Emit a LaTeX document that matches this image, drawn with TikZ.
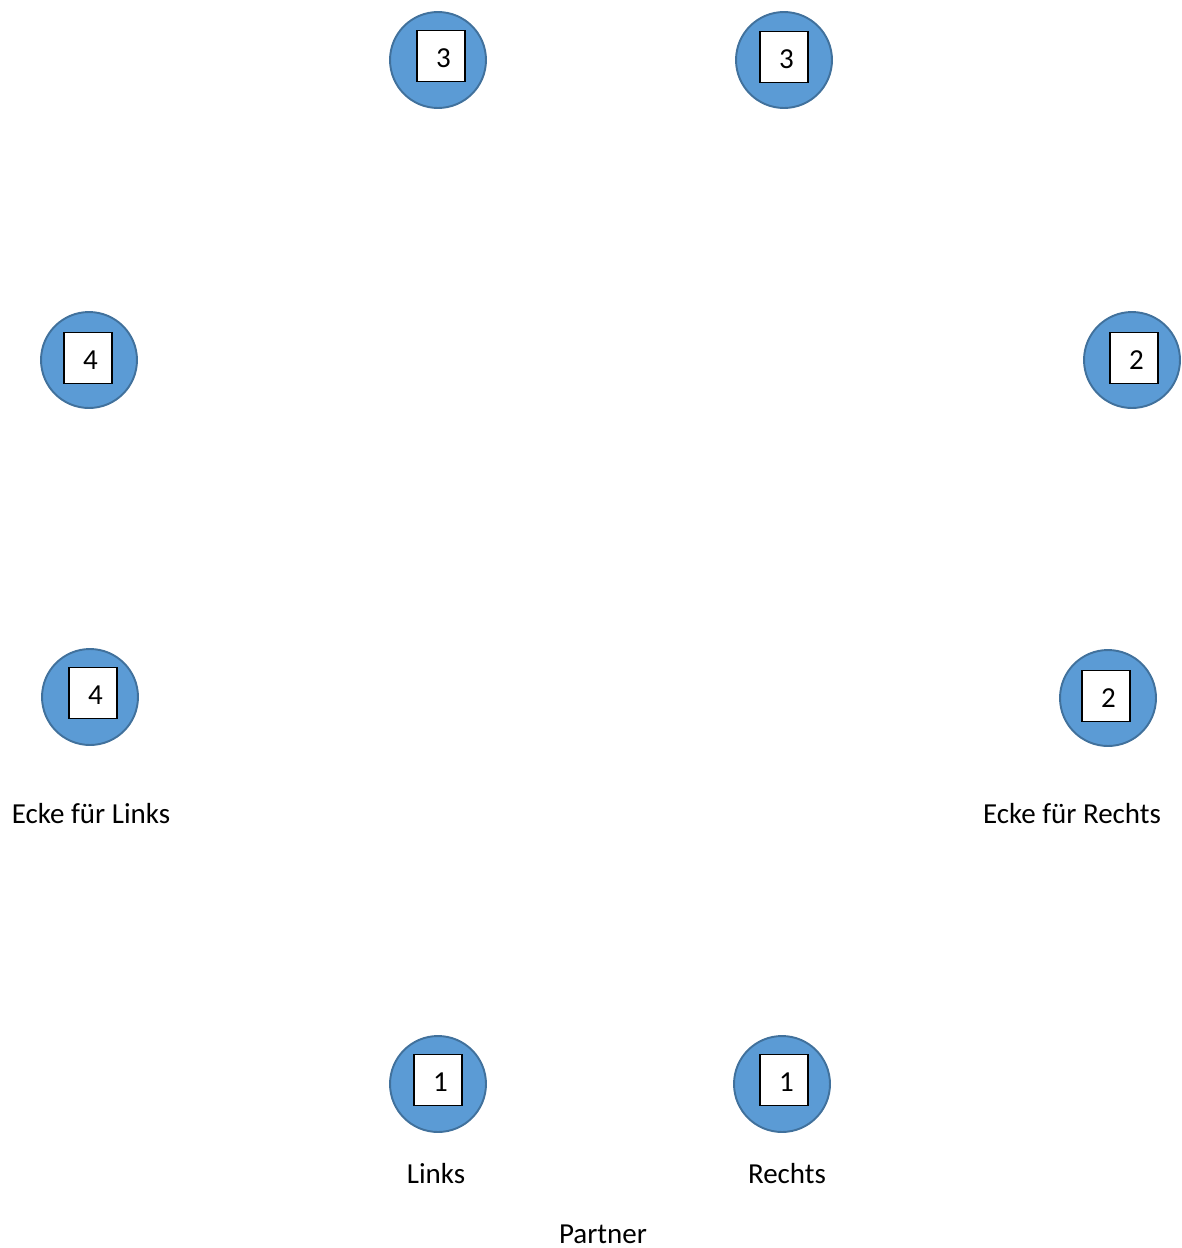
\documentclass[tikz,border=0pt]{standalone}
\usepackage{fontspec}
\setmainfont{Carlito}
\usepackage{tikz}
\definecolor{seat}{RGB}{91,155,213}
\definecolor{seatrim}{RGB}{65,113,156}

\begin{document}
\begin{tikzpicture}[x=0.02cm,y=-0.02cm,
  seatdot/.style={circle,fill=seat,draw=seatrim,line width=1.1pt,minimum size=1.92cm,inner sep=0pt},
  seatno/.style={rectangle,fill=white,draw=black,line width=0.9pt,minimum width=0.96cm,minimum height=1.02cm,inner sep=0pt,text height=13.5pt,text depth=0pt,font=\fontsize{16.5}{18}\selectfont},
  lbl/.style={font=\fontsize{16.5}{18}\selectfont}]
\useasboundingbox (0,0) rectangle (1181,1248);
%% top pair
\node[seatdot] (tl) at (438,60) {};
\node[seatno] (tlno) at (441,56) {\,3};
\node[seatdot] (tr) at (784,60) {};
\node[seatno] (trno) at (784,57) {\,3};
%% left side
\node[seatdot] (lu) at (89,360) {};
\node[seatno] (luno) at (88,358) {\,4};
\node[seatdot] (ll) at (90,697) {};
\node[seatno] (llno) at (93,693) {\,4};
%% right side
\node[seatdot] (ru) at (1132,360) {};
\node[seatno] (runo) at (1134,358) {\,2};
\node[seatdot] (rl) at (1108,698) {};
\node[seatno] (rlno) at (1106,696) {\,2};
%% bottom pair
\node[seatdot] (bl) at (438,1084) {};
\node[seatno] (blno) at (438,1080) {\,1};
\node[seatdot] (br) at (782,1084) {};
\node[seatno] (brno) at (784,1080) {\,1};
%% labels
\node[lbl] (eckel) at (91,814) {Ecke für Links};
\node[lbl] (ecker) at (1072,814) {Ecke für Rechts};
\node[lbl] (links) at (436,1174) {Links};
\node[lbl] (rechts) at (787,1174) {Rechts};
\node[lbl] (partner) at (603,1234) {Partner};
\end{tikzpicture}
\end{document}
